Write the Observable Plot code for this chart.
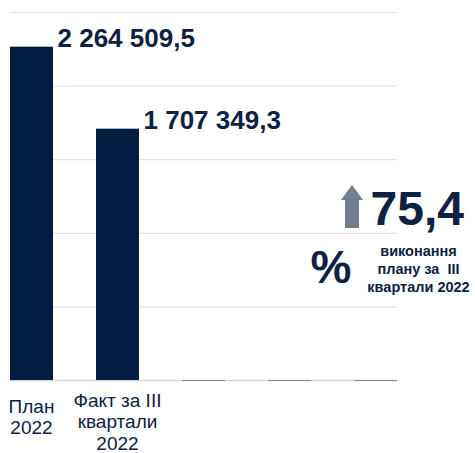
<!DOCTYPE html>
<html>
<head>
<meta charset="utf-8">
<script src="https://cdn.jsdelivr.net/npm/d3@7"></script>
<script src="https://cdn.jsdelivr.net/npm/@observablehq/plot@0.6"></script>
<style>
  html, body { margin: 0; padding: 0; background: #fff; }
  #chart svg { display: block; font-family: "Liberation Sans", Arial, sans-serif; }
</style>
</head>
<body>
<div id="chart"></div>
<script>
// ---- data ----
const categories = ["c1", "c2", "c3", "c4", "c5"];
const categoryLabels = ["План\n2022", "Факт за III\nквартали\n2022", "", "", ""];
const values = [2264509.5, 1707349.3, 0, 0, 0];
const valueLabels = ["2 264 509,5", "1 707 349,3", "", "", ""];
const yTicks = [0, 500000, 1000000, 1500000, 2000000, 2500000];
const bigNumber = "75,4";
const percentSign = "%";
const noteText = "виконання\nплану за  III\nквартали 2022";

const navy = "#011c40";
const textNavy = "#0d2142";
const data = categories.map((c, i) => ({cat: c, value: values[i], label: valueLabels[i], catLabel: categoryLabels[i]}));

// decorative up-arrow (annotation glyph)
function upArrow(index, scales, values, dims) {
  const x0 = dims.width - dims.marginRight - 56, y0 = 185;
  const hw = 11, sw = 7, hh = 15, len = 43;
  const pts = [[x0 + hw, y0], [x0 + 2 * hw, y0 + hh], [x0 + hw + sw, y0 + hh], [x0 + hw + sw, y0 + len],
               [x0 + hw - sw, y0 + len], [x0 + hw - sw, y0 + hh], [x0, y0 + hh]];
  const path = d3.create("svg:path")
    .attr("d", "M" + pts.map(p => p.join(",")).join("L") + "Z")
    .attr("fill", "#6f7d8b");
  return path.node();
}

const catText = (i, dy) => Plot.text(data.filter((d, j) => j === i), {
  x: "cat", y: 0, text: "catLabel", textAnchor: "middle", lineAnchor: "top",
  dx: -22, dy, fontSize: 19, lineHeight: 1.13, fill: textNavy
});

const chart = Plot.plot({
  width: 475,
  height: 453,
  marginTop: 12,
  marginBottom: 73,
  marginLeft: 10,
  marginRight: 78,
  style: {fontFamily: "'Liberation Sans', Arial, sans-serif", background: "#fff"},
  x: {type: "band", domain: categories, range: [10, 440], paddingInner: 0, paddingOuter: 0, label: null, axis: null},
  y: {domain: [0, 2500000], label: null, axis: null},
  marks: [
    Plot.ruleY(yTicks.slice(1), {stroke: "#e3e3e3", strokeWidth: 1.2}),
    Plot.ruleY([0], {stroke: "#d6d6d6", strokeWidth: 1.5}),
    Plot.barY(data.filter(d => d.value > 0), {x: "cat", y: "value", fill: navy, insetRight: 43}),
    Plot.tickY(data.filter(d => d.value === 0), {x: "cat", y: "value", insetRight: 43, stroke: "#7b8a9c", strokeWidth: 1.2}),
    Plot.text(data, {x: "cat", y: "value", text: "label", textAnchor: "start", lineAnchor: "bottom", dx: 4, dy: 0,
      fontSize: 26, fontWeight: "bold", fill: textNavy}),
    catText(0, 17),
    catText(1, 11),
    upArrow,
    Plot.text([bigNumber], {frameAnchor: "top-left", dx: 360, dy: 178, text: d => d, textAnchor: "start", lineAnchor: "top",
      fontSize: 48, fontWeight: "bold", fill: textNavy}),
    Plot.text([percentSign], {frameAnchor: "top-left", dx: 300, dy: 238, text: d => d, textAnchor: "start", lineAnchor: "top",
      fontSize: 46, fontWeight: "bold", fill: textNavy}),
    Plot.text([noteText], {frameAnchor: "top-left", dx: 408, dy: 231, text: d => d, textAnchor: "middle", lineAnchor: "top",
      fontSize: 14.5, lineHeight: 1.24, fontWeight: "bold", fill: textNavy})
  ]
});
document.getElementById("chart").appendChild(chart);
</script>
</body>
</html>
